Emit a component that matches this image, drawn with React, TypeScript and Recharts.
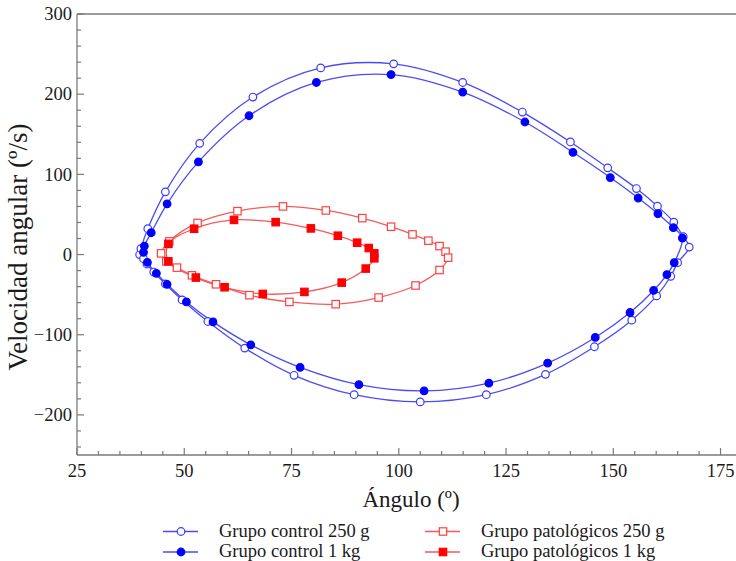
import React from 'react';
import { ComposedChart, Line, XAxis, YAxis, ReferenceLine, Label } from 'recharts';

// ---- data (angle in degrees, angular velocity in deg/s) ----
const controlAngle250 = [39.6, 39.9, 41.5, 45.6, 53.6, 66.0, 81.8, 98.8, 114.9, 128.8, 140.0, 148.7, 155.4, 160.3, 164.1, 166.3, 167.7, 165.0, 163.4, 160.1, 154.3, 145.6, 134.2, 120.4, 105.0, 89.6, 75.6, 64.1, 55.5, 49.5, 45.6, 42.9, 41.3, 40.5];
const controlVel250 = [0, 7.3, 32.2, 78.2, 138.7, 196.4, 232.8, 237.8, 214.6, 177.7, 140.4, 108.1, 82.3, 60.3, 40.4, 22.3, 9.3, -10.1, -27.1, -51.6, -81.8, -115.0, -149.4, -174.8, -183.8, -174.8, -150.6, -116.7, -83.5, -56.6, -36.7, -21.8, -11.8, -5.1];

const controlAngle1kg = [40.5, 40.7, 42.3, 46.0, 53.3, 65.1, 80.8, 98.2, 114.9, 129.4, 140.6, 149.3, 155.8, 160.4, 164.0, 166.1, 164.2, 162.5, 159.4, 153.9, 145.8, 134.7, 121.0, 105.9, 90.7, 77.0, 65.5, 56.7, 50.5, 46.0, 43.5, 41.4];
const controlVel1kg = [2.7, 10.6, 27.2, 63.3, 115.5, 173.1, 214.6, 224.5, 202.6, 165.3, 127.5, 96.0, 70.5, 50.9, 33.5, 20.5, -10.1, -25.0, -44.8, -72.3, -103.4, -135.3, -160.4, -170.1, -162.3, -140.7, -112.6, -84.0, -59.1, -37.1, -23.4, -9.7];

const patAngle250 = [44.6, 46.5, 53.1, 62.4, 73.0, 83.0, 91.5, 98.2, 103.2, 106.9, 109.5, 110.9, 111.5, 109.5, 103.9, 95.3, 85.3, 74.5, 65.2, 57.4, 51.8, 48.3, 45.8];
const patVel250 = [1.5, 16.4, 39.4, 54.1, 60.0, 55.0, 45.4, 34.7, 25.1, 17.3, 10.6, 3.6, -3.9, -19.3, -38.6, -53.6, -61.9, -59.1, -50.7, -37.1, -25.9, -16.3, -8.5];

const patAngle1kg = [46.3, 52.3, 61.6, 71.3, 79.5, 85.8, 90.3, 93.0, 94.3, 94.3, 92.3, 86.7, 78.0, 68.3, 59.4, 52.7, 46.3];
const patVel1kg = [13.3, 32.2, 43.2, 40.4, 32.6, 23.5, 14.8, 8.1, 1.5, -4.7, -17.5, -35.0, -46.6, -49.1, -40.8, -28.7, -8.5];

const seriesNames = ['Grupo control 250 g', 'Grupo control 1 kg', 'Grupo patológicos 250 g', 'Grupo patológicos 1 kg'];

const xTicks = [25, 30, 35, 40, 45, 50, 55, 60, 65, 70, 75, 80, 85, 90, 95, 100, 105, 110, 115, 120, 125, 130, 135, 140, 145, 150, 155, 160, 165, 170, 175, 180];
const xTickLabels = [25, 50, 75, 100, 125, 150, 175];
const yTicks = [-240, -220, -200, -180, -160, -140, -120, -100, -80, -60, -40, -20, 0, 20, 40, 60, 80, 100, 120, 140, 160, 180, 200, 220, 240, 260, 280, 300];
const yTickLabels = [-200, -100, 0, 100, 200, 300];

const toPoints = (xs: number[], ys: number[]) => xs.map((x, i) => ({ x, y: ys[i] }));
const dataC250 = toPoints(controlAngle250, controlVel250);
const dataC1 = toPoints(controlAngle1kg, controlVel1kg);
const dataP250 = toPoints(patAngle250, patVel250);
const dataP1 = toPoints(patAngle1kg, patVel1kg);

// ---- styles ----
const FONT = '"Liberation Serif", "Times New Roman", serif';
const AXIS = '#7a7a7a';
const TEXT = '#1a1a1a';
const BLUE_LINE = '#4b4bf5';
const BLUE = '#0000ff';
const RED_LINE = '#f55a5a';
const RED = '#ff0000';

const fmt = (v: number) => (v < 0 ? `\u2212${-v}` : `${v}`);

// closed centripetal Catmull-Rom curve factory
function closedCatmullRom(context: any) {
  let pts: number[][] = [];
  return {
    areaStart() {},
    areaEnd() {},
    lineStart() {
      pts = [];
    },
    point(x: number, y: number) {
      pts.push([+x, +y]);
    },
    lineEnd() {
      const n = pts.length;
      if (!n) return;
      context.moveTo(pts[0][0], pts[0][1]);
      const alpha = 0.5;
      for (let i = 0; i < n; i++) {
        const p0 = pts[(i - 1 + n) % n];
        const p1 = pts[i];
        const p2 = pts[(i + 1) % n];
        const p3 = pts[(i + 2) % n];
        const d01 = Math.hypot(p1[0] - p0[0], p1[1] - p0[1]);
        const d12 = Math.hypot(p2[0] - p1[0], p2[1] - p1[1]);
        const d23 = Math.hypot(p3[0] - p2[0], p3[1] - p2[1]);
        const l01a = Math.pow(d01, alpha), l01_2a = Math.pow(d01, 2 * alpha);
        const l12a = Math.pow(d12, alpha), l12_2a = Math.pow(d12, 2 * alpha);
        const l23a = Math.pow(d23, alpha), l23_2a = Math.pow(d23, 2 * alpha);
        let x1 = p1[0], y1 = p1[1], x2 = p2[0], y2 = p2[1];
        if (l01a > 1e-9) {
          const a = 2 * l01_2a + 3 * l01a * l12a + l12_2a;
          const m = 3 * l01a * (l01a + l12a);
          x1 = (p1[0] * a - p0[0] * l12_2a + p2[0] * l01_2a) / m;
          y1 = (p1[1] * a - p0[1] * l12_2a + p2[1] * l01_2a) / m;
        }
        if (l23a > 1e-9) {
          const b = 2 * l23_2a + 3 * l23a * l12a + l12_2a;
          const m = 3 * l23a * (l23a + l12a);
          x2 = (p2[0] * b + p1[0] * l23_2a - p3[0] * l12_2a) / m;
          y2 = (p2[1] * b + p1[1] * l23_2a - p3[1] * l12_2a) / m;
        }
        context.bezierCurveTo(x1, y1, x2, y2, p2[0], p2[1]);
      }
      context.closePath();
    },
  };
}

const circleDot = (filled: boolean) => (p: any) => (
  <circle key={`c-${filled}-${p.index}`} cx={p.cx} cy={p.cy} r={3.8} fill={filled ? BLUE : '#ffffff'} stroke={filled ? BLUE : '#3a3aff'} strokeWidth={1.2} />
);
const squareDot = (filled: boolean) => (p: any) => (
  <rect key={`s-${filled}-${p.index}`} x={p.cx - 3.7} y={p.cy - 3.7} width={7.4} height={7.4} fill={filled ? RED : '#ffffff'} stroke={filled ? RED : '#ff4040'} strokeWidth={1.2} />
);

const XTick = (props: any) => {
  const { x, y, payload } = props;
  const v = payload.value;
  const major = xTickLabels.includes(v);
  return (
    <g>
      <line x1={x} x2={x} y1={y} y2={y - (major ? 7 : 4)} stroke={AXIS} strokeWidth={1.2} />
      {major && (
        <text x={x} y={y + 22} textAnchor="middle" fontSize={18.5} fill={TEXT} fontFamily={FONT}>
          {fmt(v)}
        </text>
      )}
    </g>
  );
};

const YTick = (props: any) => {
  const { x, y, payload } = props;
  const v = payload.value;
  const major = yTickLabels.includes(v);
  return (
    <g>
      <line x1={x} x2={x + (major ? 7 : 4)} y1={y} y2={y} stroke={AXIS} strokeWidth={1.2} />
      {major && (
        <text x={x - 5} y={y} dy="0.34em" textAnchor="end" fontSize={18.5} fill={TEXT} fontFamily={FONT}>
          {fmt(v)}
        </text>
      )}
    </g>
  );
};

const LegendOverlay = () => {
  const rows = [
    { x0: 163, y: 531.5, name: seriesNames[0], kind: 'c', filled: false },
    { x0: 163, y: 552, name: seriesNames[1], kind: 'c', filled: true },
    { x0: 425, y: 531.5, name: seriesNames[2], kind: 's', filled: false },
    { x0: 425, y: 552, name: seriesNames[3], kind: 's', filled: true },
  ];
  return (
    <svg width={736} height={561} style={{ position: 'absolute', left: 0, top: 0, pointerEvents: 'none' }}>
      {rows.map((r, i) => {
        const color = r.kind === 'c' ? BLUE_LINE : RED_LINE;
        const cx = r.x0 + 18;
        return (
          <g key={i}>
            <line x1={r.x0} x2={r.x0 + 35} y1={r.y} y2={r.y} stroke={color} strokeWidth={1.3} />
            {r.kind === 'c' ? (
              <circle cx={cx} cy={r.y} r={3.8} fill={r.filled ? BLUE : '#fff'} stroke={r.filled ? BLUE : '#3a3aff'} strokeWidth={1.2} />
            ) : (
              <rect x={cx - 3.7} y={r.y - 3.7} width={7.4} height={7.4} fill={r.filled ? RED : '#fff'} stroke={r.filled ? RED : '#ff4040'} strokeWidth={1.2} />
            )}
            <text x={r.x0 + 56} y={r.y + 5} fontSize={18.5} fill={TEXT} fontFamily={FONT}>
              {r.name}
            </text>
          </g>
        );
      })}
    </svg>
  );
};

export default function App() {
  return (
    <div style={{ position: 'absolute', left: 0, top: 0, width: 736, height: 561, overflow: 'hidden', background: '#fff' }}>
      <ComposedChart width={760} height={561} margin={{ top: 14, right: 18, left: 0, bottom: 0 }}>
        <XAxis
          type="number"
          dataKey="x"
          domain={[25, 180]}
          ticks={xTicks}
          interval={0}
          allowDataOverflow
          height={106}
          tickSize={0}
          tickMargin={0}
          tickLine={false}
          axisLine={{ stroke: AXIS, strokeWidth: 1.3 }}
          tick={<XTick />}
        >
          <Label
            content={() => (
              <text x={411} y={507} textAnchor="middle" fontSize={23} fill={TEXT} fontFamily={FONT}>
                Ángulo (º)
              </text>
            )}
          />
        </XAxis>
        <YAxis
          type="number"
          dataKey="y"
          domain={[-250, 300]}
          ticks={yTicks}
          interval={0}
          allowDataOverflow
          width={77}
          tickSize={0}
          tickMargin={0}
          tickLine={false}
          axisLine={{ stroke: AXIS, strokeWidth: 1.3 }}
          tick={<YTick />}
        >
          <Label
            content={() => (
              <text x={27} y={247} transform="rotate(-90 27 247)" textAnchor="middle" fontSize={27} fill={TEXT} fontFamily={FONT}>
                Velocidad angular (º/s)
              </text>
            )}
          />
        </YAxis>
        <ReferenceLine y={300} stroke={AXIS} strokeWidth={1.3} />
        <Line data={dataC250} dataKey="y" name={seriesNames[0]} type={closedCatmullRom as any} stroke={BLUE_LINE} strokeWidth={1.3} dot={circleDot(false)} activeDot={false} isAnimationActive={false} />
        <Line data={dataC1} dataKey="y" name={seriesNames[1]} type={closedCatmullRom as any} stroke={BLUE_LINE} strokeWidth={1.3} dot={circleDot(true)} activeDot={false} isAnimationActive={false} />
        <Line data={dataP250} dataKey="y" name={seriesNames[2]} type={closedCatmullRom as any} stroke={RED_LINE} strokeWidth={1.3} dot={squareDot(false)} activeDot={false} isAnimationActive={false} />
        <Line data={dataP1} dataKey="y" name={seriesNames[3]} type={closedCatmullRom as any} stroke={RED_LINE} strokeWidth={1.3} dot={squareDot(true)} activeDot={false} isAnimationActive={false} />
      </ComposedChart>
      <LegendOverlay />
    </div>
  );
}
